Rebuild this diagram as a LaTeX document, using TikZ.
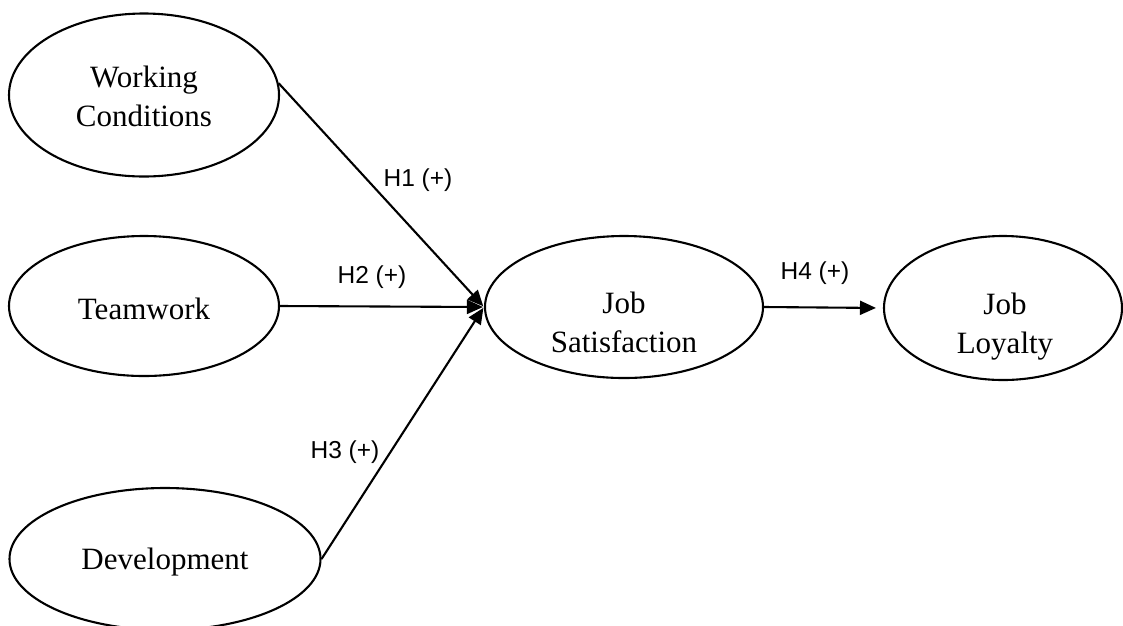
\documentclass[tikz,border=0pt]{standalone}
\usepackage{fontspec}
\setmainfont{Liberation Serif}
\newfontfamily\labfont{Liberation Sans}
\usetikzlibrary{shapes.geometric,arrows.meta}
\tikzset{
  construct/.style={ellipse, draw=black, line width=2.1pt, inner sep=0pt},
  ctext/.style={align=center, inner sep=0pt, font=\fontsize{31}{39}\selectfont},
  path/.style={line width=2.1pt, -{Triangle[length=16pt,width=14pt]}},
  hyp/.style={font=\labfont\fontsize{24.5}{28}\selectfont, inner sep=0pt}
}
\begin{document}
\begin{tikzpicture}[x=1pt,y=-1pt]
\useasboundingbox (0,0) rectangle (1123,625);
\node[construct, minimum width=270pt, minimum height=163pt] (wc) at (144,95) {};
\node[construct, minimum width=270pt, minimum height=140pt] (tw) at (144,306) {};
\node[construct, minimum width=311pt, minimum height=142pt] (dev) at (165,559) {};
\node[construct, minimum width=278pt, minimum height=142pt] (js) at (624,307) {};
\node[construct, minimum width=238pt, minimum height=144pt] (jl) at (1003,308) {};
\node[ctext] (wct) at (144,96) {Working\\Conditions};
\node[ctext] (twt) at (144,309) {Teamwork};
\node[ctext] (devt) at (165,562) {Development};
\node[ctext] (jst) at (624,322) {Job\\Satisfaction};
\node[ctext] (jlt) at (1005,327) {Job\\Loyalty};
\draw[path, shorten >=1pt] (wc.5) -- (js.west);
\draw[path, shorten >=1pt] (tw.east) -- (js.west);
\draw[path, shorten >=1pt] (dev.east) -- (js.west);
\draw[path, shorten >=7pt] (js.east) -- (jl.west);
\node[hyp] (h1) at (418,180) {H1 (+)};
\node[hyp] (h2) at (372,277) {H2 (+)};
\node[hyp] (h3) at (345,452) {H3 (+)};
\node[hyp] (h4) at (815,273) {H4 (+)};
\end{tikzpicture}
\end{document}
